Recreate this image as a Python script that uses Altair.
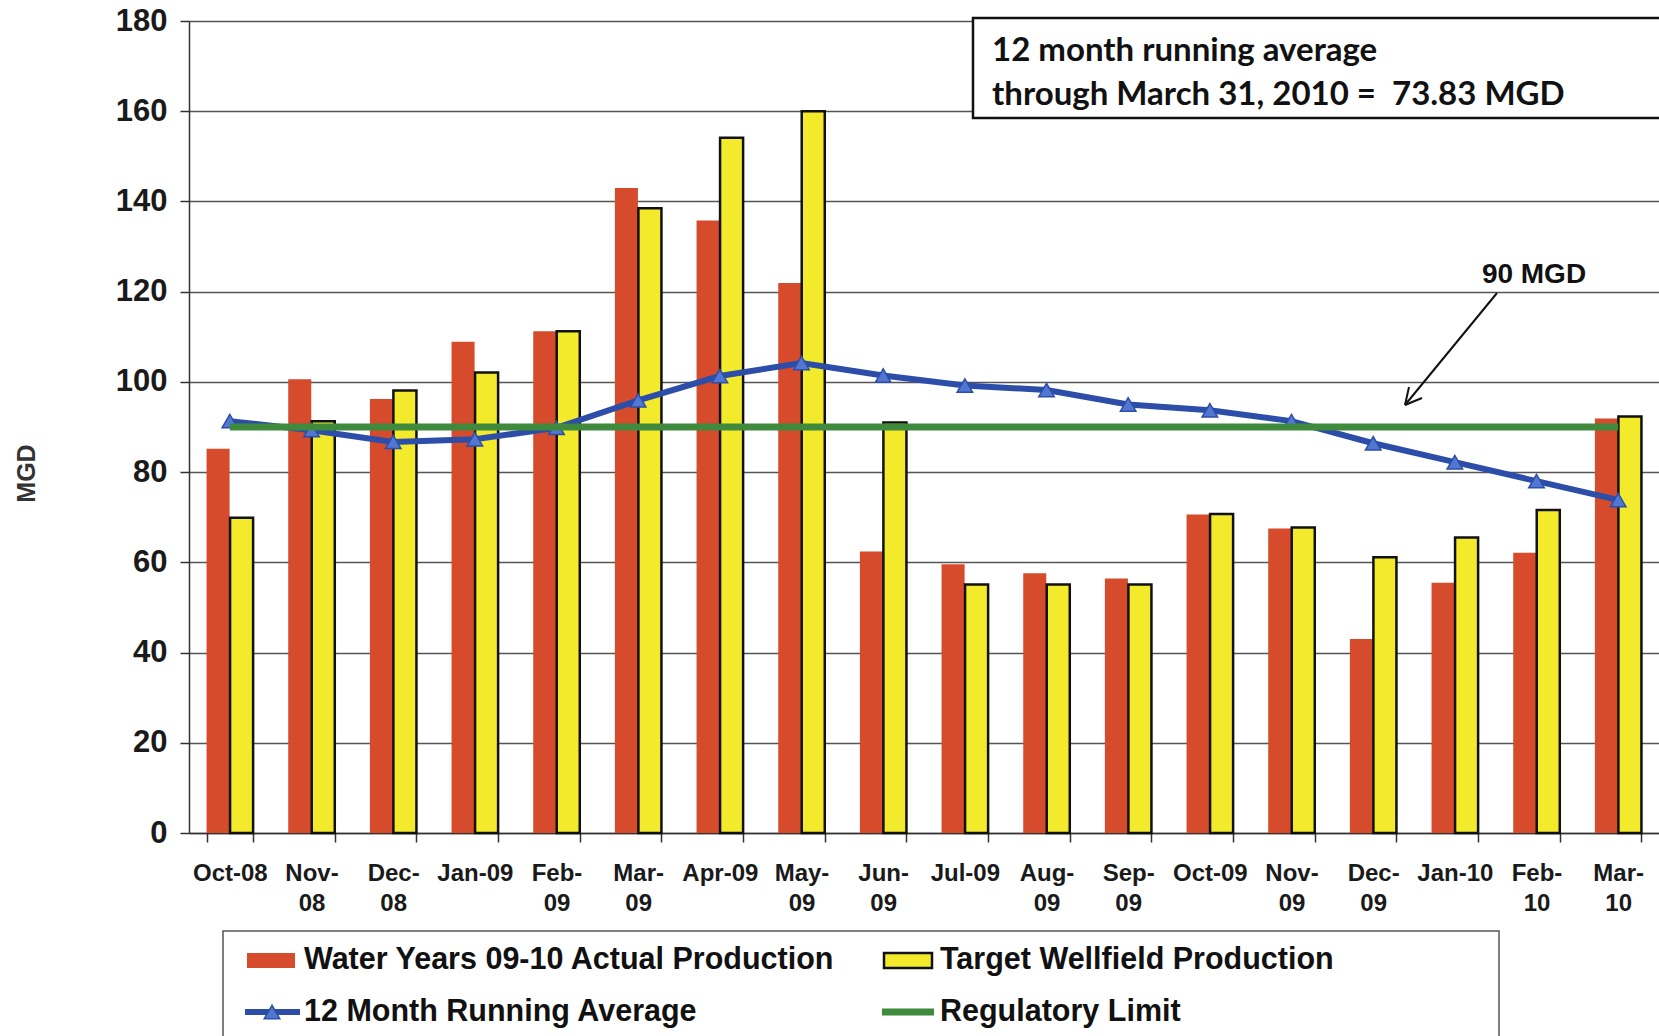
import json
import altair as alt
import pandas as pd

# ---------------- data ----------------
months = ["Oct-08", "Nov-08", "Dec-08", "Jan-09", "Feb-09", "Mar-09", "Apr-09", "May-09",
          "Jun-09", "Jul-09", "Aug-09", "Sep-09", "Oct-09", "Nov-09", "Dec-09", "Jan-10",
          "Feb-10", "Mar-10"]
tick_labels = ["Oct-08", "Nov-|08", "Dec-|08", "Jan-09", "Feb-|09", "Mar-|09", "Apr-09", "May-|09",
               "Jun-|09", "Jul-09", "Aug-|09", "Sep-|09", "Oct-09", "Nov-|09", "Dec-|09", "Jan-10",
               "Feb-|10", "Mar-|10"]
actual = [85.2, 100.6, 96.2, 108.9, 111.2, 143.0, 135.8, 121.9, 62.4, 59.6, 57.6, 56.4,
          70.6, 67.5, 43.0, 55.5, 62.1, 91.9]
target = [69.9, 91.3, 98.1, 102.1, 111.2, 138.5, 154.1, 160.0, 91.0, 55.1, 55.1, 55.1,
          70.7, 67.7, 61.1, 65.5, 71.6, 92.3]
running_avg = [91.3, 89.3, 86.7, 87.3, 89.8, 95.9, 101.3, 104.2, 101.4, 99.2, 98.2, 95.0,
               93.7, 91.3, 86.4, 82.2, 78.0, 73.83]
limit_value = 90
y_ticks = [0, 20, 40, 60, 80, 100, 120, 140, 160, 180]

bar_series = ["Water Years 09-10 Actual Production", "Target Wellfield Production"]
line_series = ["12 Month Running Average", "Regulatory Limit"]
annotation_lines = ["12 month running average", "through March 31, 2010 =\u00a0 73.83 MGD"]
limit_label = "90 MGD"
y_title = "MGD"

# ---------------- styles ----------------
RED = "#d64b2c"
YELLOW = "#f4ea2c"
BLUE = "#2c4ea8"
TRI = "#5277d2"
GREEN = "#3f8a3d"
BG = "#c8cbd2"
FONT = "Liberation Sans"

W, H = 1470, 812
OX, OY = 189, 21  # plot origin in the page

bars_df = pd.DataFrame({
    "month": months * 2,
    "series": [bar_series[0]] * len(months) + [bar_series[1]] * len(months),
    "value": actual + target,
})
line_df = pd.DataFrame({
    "month": months,
    "value": running_avg,
})
limit_df = pd.DataFrame({
    "month": months,
    "value": [limit_value] * len(months),
})

label_expr = ("indexof(" + json.dumps(months) + ", datum.value) < 0 ? '' : split("
              + json.dumps(tick_labels) + "[indexof(" + json.dumps(months)
              + ", datum.value)], '|')")

x_enc = alt.X(
    "month:N", sort=months,
    scale=alt.Scale(paddingInner=0.43, paddingOuter=0.215),
    axis=alt.Axis(title=None, labelExpr=label_expr, labelAngle=0, labelFontSize=24,
                  labelFontWeight="bold", labelColor="#1a1a1a", labelBaseline="top",
                  labelLineHeight=30, labelPadding=19, tickSize=9, tickBand="extent",
                  tickColor="#333333", tickWidth=1.5, domainColor="#333333", domainWidth=1.5,
                  grid=False, labelOverlap=False, labelFont=FONT),
)
y_enc = alt.Y(
    "value:Q",
    scale=alt.Scale(domain=[0, 180], nice=False),
    axis=alt.Axis(values=y_ticks, title=y_title, titleFontSize=25, titleFont=FONT,
                  titleFontWeight="bold", titleColor="#333333", titleAngle=270,
                  titleX=26 - OX, titleY=473 - OY, titleAlign="center", titleBaseline="middle",
                  labelFontSize=31, labelFontWeight="bold", labelColor="#1a1a1a", labelFont=FONT,
                  labelPadding=13, tickSize=9, tickColor="#333333", tickWidth=1.5,
                  domainColor="#333333", domainWidth=1.5, grid=True, gridColor="#555555",
                  gridWidth=1.3),
)

bars = alt.Chart(bars_df).mark_bar().encode(
    x=x_enc,
    y=y_enc,
    xOffset=alt.XOffset("series:N", sort=bar_series, scale=alt.Scale(paddingInner=0.02)),
    fill=alt.Fill("series:N", scale=alt.Scale(domain=bar_series, range=[RED, YELLOW]), legend=None),
    stroke=alt.Stroke("series:N", scale=alt.Scale(domain=bar_series, range=["transparent", "#111111"]),
                      legend=None),
    strokeWidth=alt.StrokeWidth("series:N", scale=alt.Scale(domain=bar_series, range=[0, 2.5]),
                                legend=None),
)

avg_line = alt.Chart(line_df).mark_line(color=BLUE, strokeWidth=6).encode(x=x_enc, y=y_enc)
avg_pts = alt.Chart(line_df).mark_point(shape="triangle-up", filled=True, fill=TRI, stroke=BLUE,
                                        strokeWidth=1.5, size=240, opacity=1).encode(x=x_enc, y=y_enc)
limit_line = alt.Chart(limit_df).mark_line(color=GREEN, strokeWidth=7).encode(x=x_enc, y=y_enc)

# ---------------- annotations (page pixel positions relative to plot origin) ----------------
def px(v):
    return alt.value(v - OX)


def py(v):
    return alt.value(v - OY)


one = pd.DataFrame({"k": [0]})

ann_box = alt.Chart(one).mark_rect(fill="white", stroke="#111111", strokeWidth=2.5).encode(
    x=px(973), x2=px(1700), y=py(18), y2=py(118))
ann_t1 = alt.Chart(pd.DataFrame({"t": [annotation_lines[0]]})).mark_text(
    align="left", baseline="middle", font="Lato", fontWeight="bold", fontSize=33, color="#111111"
).encode(x=px(992), y=py(51), text="t:N")
ann_t2 = alt.Chart(pd.DataFrame({"t": [annotation_lines[1]]})).mark_text(
    align="left", baseline="middle", font="Lato", fontWeight="bold", fontSize=33, color="#111111"
).encode(x=px(992), y=py(95), text="t:N")

lim_txt = alt.Chart(pd.DataFrame({"t": [limit_label]})).mark_text(
    align="center", baseline="middle", font=FONT, fontWeight="bold", fontSize=28, color="#111111"
).encode(x=px(1534), y=py(275), text="t:N")
arrow_main = alt.Chart(one).mark_rule(color="#111111", strokeWidth=2).encode(
    x=px(1497), x2=px(1405), y=py(293), y2=py(405))
arrow_h1 = alt.Chart(one).mark_rule(color="#111111", strokeWidth=2).encode(
    x=px(1405), x2=px(1422), y=py(405), y2=py(398))
arrow_h2 = alt.Chart(one).mark_rule(color="#111111", strokeWidth=2).encode(
    x=px(1405), x2=px(1409), y=py(405), y2=py(387))

# ---------------- legend (drawn manually) ----------------
leg_box = alt.Chart(one).mark_rect(fill="white", stroke="#555555", strokeWidth=1.5).encode(
    x=px(223), x2=px(1499), y=py(931), y2=py(1060))
leg_r1 = alt.Chart(one).mark_rect(fill=RED).encode(x=px(247), x2=px(295), y=py(953), y2=py(968))
leg_r2 = alt.Chart(one).mark_rect(fill=YELLOW, stroke="#111111", strokeWidth=2.5).encode(
    x=px(884), x2=px(932), y=py(953), y2=py(968))
leg_l1 = alt.Chart(one).mark_rule(color=BLUE, strokeWidth=6).encode(
    x=px(245), x2=px(300), y=py(1012))
leg_p1 = alt.Chart(one).mark_point(shape="triangle-up", filled=True, fill=TRI, stroke=BLUE,
                                   strokeWidth=1.5, size=240, opacity=1).encode(x=px(272), y=py(1012))
leg_l2 = alt.Chart(one).mark_rule(color=GREEN, strokeWidth=7).encode(
    x=px(882), x2=px(934), y=py(1012))


def leg_text(label, x, y):
    return alt.Chart(pd.DataFrame({"t": [label]})).mark_text(
        align="left", baseline="middle", font=FONT, fontWeight="bold", fontSize=30.5, color="#111111"
    ).encode(x=px(x), y=py(y), text="t:N")


chart = alt.layer(
    bars, avg_line, avg_pts, limit_line,
    ann_box, ann_t1, ann_t2, lim_txt, arrow_main, arrow_h1, arrow_h2,
    leg_box, leg_r1, leg_r2, leg_l1, leg_p1, leg_l2,
    leg_text(bar_series[0], 304, 960), leg_text(bar_series[1], 940, 960),
    leg_text(line_series[0], 304, 1012), leg_text(line_series[1], 940, 1012),
).properties(
    width=W, height=H,
    padding={"left": OX, "top": OY, "right": 0, "bottom": 1036 - OY - H},
    autosize=alt.AutoSizeParams(type="none"),
    background="white",
).configure_view(fill=BG, strokeWidth=0).configure(font=FONT)

chart.save("out.html", embed_options={"renderer": "svg", "actions": False})
